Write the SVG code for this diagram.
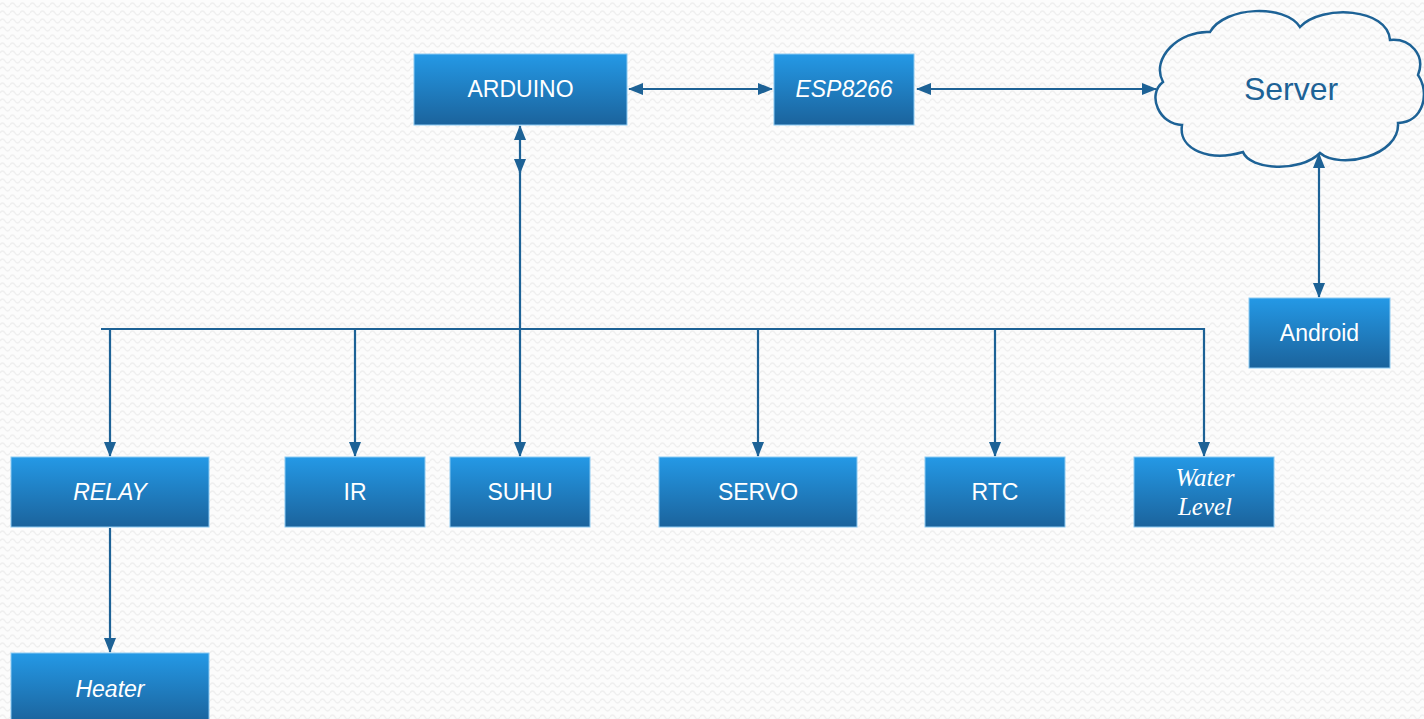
<svg xmlns="http://www.w3.org/2000/svg" width="1424" height="719" viewBox="0 0 1424 719">
<defs>
<pattern id="bg" width="10" height="8" patternUnits="userSpaceOnUse">
<rect width="10" height="8" fill="#fcfcfc"/>
<path d="M0,5 Q2.5,1 5,5 T10,5" fill="none" stroke="#efefef" stroke-width="1.4"/>
</pattern>
<linearGradient id="g" x1="0" y1="0" x2="0" y2="1">
<stop offset="0" stop-color="#2499e6"/>
<stop offset="1" stop-color="#1b639c"/>
</linearGradient>
<marker id="ah" markerWidth="15" markerHeight="12" refX="14" refY="6" orient="auto-start-reverse" markerUnits="userSpaceOnUse">
<path d="M0,0 L15,6 L0,12 Z" fill="#1d6296"/>
</marker>
<style>
.box{fill:url(#g);stroke:#8ccaf2;stroke-width:1}
.t{font-family:"Liberation Sans",Arial,sans-serif;font-size:23px;fill:#ffffff;text-anchor:middle}
.i{font-style:italic}
.s{font-family:"Liberation Serif","Times New Roman",serif;font-style:italic;font-size:25px;fill:#ffffff;text-anchor:middle}
.c{fill:none;stroke:#1d6296;stroke-width:2.2}
</style>
</defs>
<rect width="1424" height="719" fill="url(#bg)"/>

<g id="connectors">
<line class="c" x1="629" y1="89" x2="772" y2="89" marker-start="url(#ah)" marker-end="url(#ah)"/>
<line class="c" x1="917" y1="89" x2="1156" y2="89" marker-start="url(#ah)" marker-end="url(#ah)"/>
<line class="c" x1="1319" y1="154" x2="1319" y2="297" marker-start="url(#ah)" marker-end="url(#ah)"/>
<line class="c" x1="520" y1="126" x2="520" y2="173" marker-start="url(#ah)" marker-end="url(#ah)"/>
<line class="c" x1="520" y1="170" x2="520" y2="456" marker-end="url(#ah)"/>
<polyline class="c" points="101,329 1204,329 1204,456" marker-end="url(#ah)"/>
<line class="c" x1="110" y1="329" x2="110" y2="456" marker-end="url(#ah)"/>
<line class="c" x1="355" y1="329" x2="355" y2="456" marker-end="url(#ah)"/>
<line class="c" x1="758" y1="329" x2="758" y2="456" marker-end="url(#ah)"/>
<line class="c" x1="995" y1="329" x2="995" y2="456" marker-end="url(#ah)"/>
<line class="c" x1="110" y1="528" x2="110" y2="652" marker-end="url(#ah)"/>
</g>

<g id="arduino"><rect class="box" x="414" y="54" width="213" height="71"/><text class="t" x="520.5" y="97">ARDUINO</text></g>
<g id="esp8266"><rect class="box" x="774" y="54" width="140" height="71"/><text class="t i" x="844" y="97">ESP8266</text></g>
<g id="server">
<path d="M1182,125 C1160,125 1146,95 1163,82 C1150,58 1180,30 1210,32 C1225,6 1285,4 1300,27 C1322,4 1388,8 1390,40 C1410,38 1426,55 1418,75 C1430,92 1424,122 1398,123 C1400,156 1340,170 1320,153 C1300,173 1250,170 1243,152 C1210,162 1178,150 1182,125 Z" fill="none" stroke="#1d6296" stroke-width="2.5"/>
<text x="1291" y="100" font-family="Liberation Sans, Arial, sans-serif" font-size="32" fill="#1d6296" text-anchor="middle">Server</text>
</g>
<g id="android"><rect class="box" x="1249" y="298" width="141" height="70"/><text class="t" x="1319.5" y="341">Android</text></g>
<g id="relay"><rect class="box" x="11" y="457" width="198" height="70"/><text class="t i" x="110" y="500">RELAY</text></g>
<g id="ir"><rect class="box" x="285" y="457" width="140" height="70"/><text class="t" x="355" y="500">IR</text></g>
<g id="suhu"><rect class="box" x="450" y="457" width="140" height="70"/><text class="t" x="520" y="500">SUHU</text></g>
<g id="servo"><rect class="box" x="659" y="457" width="198" height="70"/><text class="t" x="758" y="500">SERVO</text></g>
<g id="rtc"><rect class="box" x="925" y="457" width="140" height="70"/><text class="t" x="995" y="500">RTC</text></g>
<g id="water-level"><rect class="box" x="1134" y="457" width="140" height="70"/><text class="s" x="1205" y="486">Water</text><text class="s" x="1205" y="515">Level</text></g>
<g id="heater"><rect class="box" x="11" y="653" width="198" height="70"/><text class="t i" x="110" y="697">Heater</text></g>
</svg>
